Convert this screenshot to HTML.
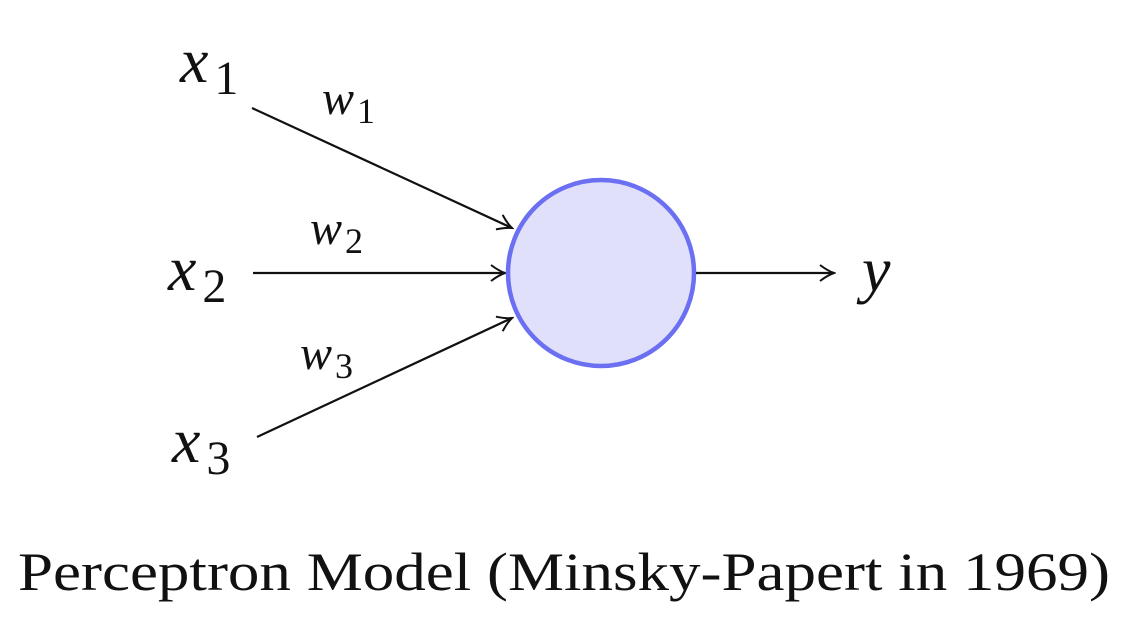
<!DOCTYPE html>
<html><head><meta charset="utf-8"><style>
html,body{margin:0;padding:0;background:#fff;}
svg{display:block;}
text{font-family:"Liberation Serif",serif;fill:#111;}
.v{font-style:italic;}
</style></head><body>
<svg width="1145" height="628" viewBox="0 0 1145 628">
<defs>
<marker id="arr" viewBox="0 0 20 20" refX="18" refY="10" markerWidth="20" markerHeight="20" markerUnits="userSpaceOnUse" orient="auto">
<path d="M4,2 Q12,8 18,10 Q12,12 4,18" fill="none" stroke="#111" stroke-width="2"/>
</marker>
</defs>
<g id="edges"></g>
<circle cx="601" cy="273" r="93" fill="#e0e0fb" stroke="#6b6ff2" stroke-width="4.5"/>
<line x1="696" y1="273" x2="834" y2="273" stroke="#111" stroke-width="2.2" marker-end="url(#arr)"/>
<text class="v" x="862" y="291" font-size="64">y</text>
<g id="labels"></g>
<text x="18" y="590" font-size="54" fill="#222" textLength="1092" lengthAdjust="spacingAndGlyphs">Perceptron Model (Minsky-Papert in 1969)</text>
</svg>
<script>
const inputNames = ["1","2","3"];
const startPts = [[252,108],[253,273],[257,437]];
const endPts = [[512,228],[505,273],[512,318]];
const xLabelPos = [[180,82],[168,290],[172,462]];
const wLabelPos = [[322,114],[310,244],[300,369]];
const NS="http://www.w3.org/2000/svg";
const eg=document.getElementById('edges'), lg=document.getElementById('labels');
function sub(g,x,y,base,s,name){
  const t=document.createElementNS(NS,'text');
  
  
  t.setAttribute('x',x);t.setAttribute('y',y);t.setAttribute('font-size',base.size);
  const a=document.createElementNS(NS,'tspan');a.setAttribute('class','v');a.textContent=base.t;
  const b=document.createElementNS(NS,'tspan');b.setAttribute('dy',base.dy);b.setAttribute('dx',base.dx);b.setAttribute('font-size',base.size*0.75);b.textContent=s;
  t.appendChild(a);t.appendChild(b);g.appendChild(t);
}
inputNames.forEach((n,i)=>{
  const l=document.createElementNS(NS,'line');
  
  
  l.setAttribute('x1',startPts[i][0]);l.setAttribute('y1',startPts[i][1]);
  l.setAttribute('x2',endPts[i][0]);l.setAttribute('y2',endPts[i][1]);
  l.setAttribute('stroke','#111');l.setAttribute('stroke-width','2.2');l.setAttribute('marker-end','url(#arr)');
  eg.appendChild(l);
  sub(lg,xLabelPos[i][0],xLabelPos[i][1],{t:'x',size:64,dy:12,dx:6},n,'input-label-x'+n);
  sub(lg,wLabelPos[i][0],wLabelPos[i][1],{t:'w',size:48,dy:9,dx:3},n,'weight-label-w'+n);
});
</script>
</body></html>
